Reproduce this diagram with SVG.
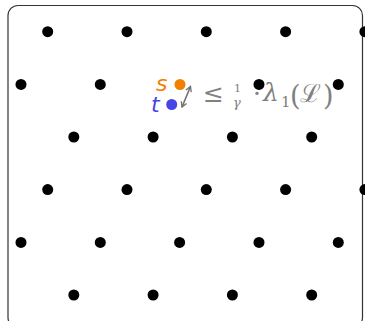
<svg xmlns="http://www.w3.org/2000/svg" width="365" height="321" viewBox="0 0 365 321">
<defs>
<style>
.pt{fill:#000}
.math{fill:#808080;font-family:"DejaVu Serif","Liberation Serif",serif}
.lbl{font-family:"DejaVu Sans","Liberation Sans",sans-serif;font-style:italic;font-size:22px}
</style>
<marker id="ah" viewBox="0 0 10 10" refX="8" refY="5" markerWidth="4.5" markerHeight="4.5" orient="auto-start-reverse">
<path d="M1,1 L8,5 L1,9" fill="none" stroke="#707070" stroke-width="1.8"/>
</marker>
</defs>
<rect x="8" y="5.5" width="354.5" height="322" rx="10" ry="10" fill="#fff" stroke="#333" stroke-width="1.2"/>
<g id="formula">
<text class="math" x="203" y="102" font-size="25">≤</text>
<text class="math" x="234" y="92" font-size="11">1</text>
<text class="math" x="233" y="107" font-size="13" font-style="italic">γ</text>
<text class="math" x="253" y="102" font-size="25">·</text>
<text class="math" x="263" y="101" font-size="25" font-style="italic">λ</text>
<text class="math" x="281" y="107" font-size="15">1</text>
<text class="math" x="290" y="105" font-size="27">(</text>
<text class="math" x="300" y="102" font-size="25">ℒ</text>
<text class="math" x="323" y="105" font-size="27">)</text>
</g>
<g id="connectors">
<line x1="190.5" y1="86.5" x2="182" y2="107" stroke="#707070" stroke-width="1.6" marker-start="url(#ah)" marker-end="url(#ah)"/>
</g>
<g id="lattice">
<circle class="pt" cx="47.7" cy="31.7" r="5.5"/>
<circle class="pt" cx="127" cy="31.7" r="5.5"/>
<circle class="pt" cx="206.3" cy="31.7" r="5.5"/>
<circle class="pt" cx="285.6" cy="31.7" r="5.5"/>
<circle class="pt" cx="364.9" cy="31.7" r="5.5"/>
<circle class="pt" cx="21" cy="84.4" r="5.5"/>
<circle class="pt" cx="100.3" cy="84.4" r="5.5"/>
<circle class="pt" cx="259" cy="84.4" r="5.5"/>
<circle class="pt" cx="338.3" cy="84.4" r="5.5"/>
<circle class="pt" cx="73.8" cy="137" r="5.5"/>
<circle class="pt" cx="153.1" cy="137" r="5.5"/>
<circle class="pt" cx="232.4" cy="137" r="5.5"/>
<circle class="pt" cx="311.7" cy="137" r="5.5"/>
<circle class="pt" cx="47.7" cy="189.6" r="5.5"/>
<circle class="pt" cx="127" cy="189.6" r="5.5"/>
<circle class="pt" cx="206.3" cy="189.6" r="5.5"/>
<circle class="pt" cx="285.6" cy="189.6" r="5.5"/>
<circle class="pt" cx="364.9" cy="189.6" r="5.5"/>
<circle class="pt" cx="21" cy="242.4" r="5.5"/>
<circle class="pt" cx="100.3" cy="242.4" r="5.5"/>
<circle class="pt" cx="179.6" cy="242.4" r="5.5"/>
<circle class="pt" cx="259" cy="242.4" r="5.5"/>
<circle class="pt" cx="338.3" cy="242.4" r="5.5"/>
<circle class="pt" cx="73.8" cy="295" r="5.5"/>
<circle class="pt" cx="153.1" cy="295" r="5.5"/>
<circle class="pt" cx="232.4" cy="295" r="5.5"/>
<circle class="pt" cx="311.7" cy="295" r="5.5"/>
</g>
<g id="s">
<circle cx="180" cy="84.5" r="5.5" fill="#f08000"/>
<text class="lbl" x="156" y="91" fill="#f08000">s</text>
</g>
<g id="t">
<circle cx="171.7" cy="104.5" r="5.5" fill="#4646e6"/>
<text class="lbl" x="151" y="112" fill="#4646e6">t</text>
</g>
</svg>
